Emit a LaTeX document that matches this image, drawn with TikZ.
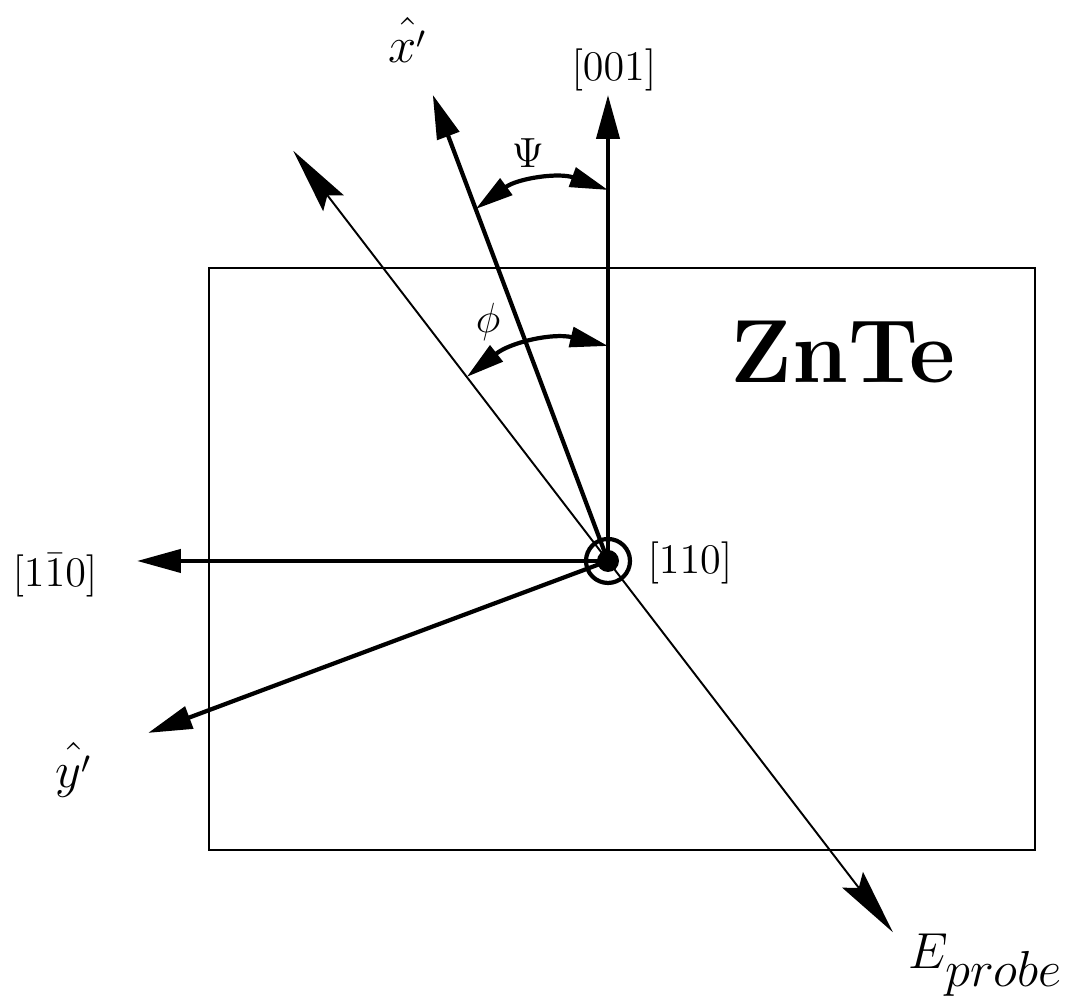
\documentclass[tikz,border=0pt]{standalone}
\usepackage{amsmath}
\usepackage{amssymb}
\usepackage{tikz}
\usetikzlibrary{arrows.meta}

\begin{document}
\begin{tikzpicture}[font=\fontsize{11.8}{14}\selectfont,
  axis/.style={line width=1.2pt, -{Triangle[length=4.4mm, width=2.3mm]}},
  probe/.style={line width=0.55pt, {Stealth[length=6.6mm, width=2.6mm, inset=1mm]}-{Stealth[length=6.6mm, width=2.6mm, inset=1mm]}},
  anglearc/.style={line width=1.2pt, {Triangle[length=3.8mm, width=2mm]}-{Triangle[length=3.8mm, width=2mm]}}]
  \useasboundingbox (0,0) rectangle (10.67,10.03);

  % Origin
  \coordinate (O) at (6.08,4.42);

  % Crystal outline
  \draw[line width=0.6pt] (2.09,1.53) rectangle (10.35,7.35);
  \node[font=\fontsize{25.5}{28}\selectfont\bfseries] (znte) at (8.43,6.51) {ZnTe};

  % Ends of the axes
  \coordinate (Z) at ([shift={(90:4.66)}]O);
  \coordinate (Xp) at ([shift={(110.6:4.98)}]O);
  \coordinate (Yp) at ([shift={(200.5:4.91)}]O);
  \coordinate (H) at ([shift={(180:4.71)}]O);
  \coordinate (Ea) at ([shift={(127.5:5.17)}]O);
  \coordinate (Eb) at ([shift={(-52.5:4.68)}]O);

  % Ends of the angle marks
  \coordinate (psiA) at ([shift={(90:3.71)}]O);
  \coordinate (psiB) at ([shift={(110.6:3.76)}]O);
  \coordinate (phiA) at ([shift={(90:2.15)}]O);
  \coordinate (phiB) at ([shift={(127.5:2.32)}]O);

  % Probe polarisation (thin line)
  \draw[probe] (Ea) -- (Eb);

  % Crystal axes and rotated frame
  \draw[axis] (O) -- (Z);
  \draw[axis] (O) -- (Xp);
  \draw[axis] (O) -- (H);
  \draw[axis] (O) -- (Yp);

  % Angles
  \draw[anglearc] (psiA) to[bend right=28] (psiB);
  \draw[anglearc] (phiA) to[bend right=26] (phiB);

  % [110] pointing out of the page
  \fill (O) circle (0.11);
  \draw[line width=1.2pt] (O) circle (0.22);

  % Labels
  \node[font=\fontsize{13.5}{16}\selectfont] (lxp) at (4.08,9.63) {$\hat{x'}$};
  \node (lz) at (6.14,9.33) {$[001]$};
  \node[font=\fontsize{12.5}{15}\selectfont] (lpsi) at (5.28,8.50) {$\Psi$};
  \node[font=\fontsize{12.5}{15}\selectfont] (lphi) at (4.88,6.81) {$\phi$};
  \node (lout) at (6.90,4.40) {$[110]$};
  \node (lh) at (0.55,4.28) {$[1\bar{1}0]$};
  \node[font=\fontsize{13.5}{16}\selectfont] (lyp) at (0.74,2.33) {$\hat{y'}$};
  \node[font=\fontsize{13.3}{16}\selectfont] (le) at (9.86,0.38) {$E_{\textstyle probe}$};

\end{tikzpicture}
\end{document}
